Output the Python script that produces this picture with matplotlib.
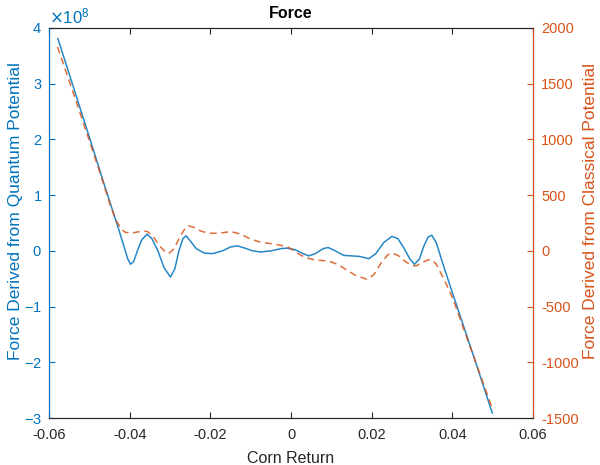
import numpy as np
import matplotlib
matplotlib.use("Agg")
import matplotlib.pyplot as plt

plt.rcParams['font.family'] = ['Liberation Sans', 'DejaVu Sans']
plt.rcParams['axes.unicode_minus'] = False

# quantum potential force (x, y in units of 1e8)
q_x = [-0.0578, -0.0540, -0.0500, -0.0460, -0.0430, -0.0415, -0.0405, -0.0398, -0.0390,
       -0.0380, -0.0370, -0.0357, -0.0345, -0.0330, -0.0315, -0.0299, -0.0288, -0.0278,
       -0.0268, -0.0260, -0.0250, -0.0235, -0.0215, -0.0195, -0.0170, -0.0150, -0.0133,
       -0.0115, -0.0095, -0.0075, -0.0050, -0.0025, -0.0010, 0.0010, 0.0030, 0.0044,
       0.0060, 0.0080, 0.0092, 0.0110, 0.0130, 0.0150, 0.0170, 0.0193, 0.0210, 0.0230,
       0.0250, 0.0265, 0.0280, 0.0295, 0.0306, 0.0318, 0.0330, 0.0340, 0.0349, 0.0360,
       0.0375, 0.0400, 0.0430, 0.0460, 0.0499]
q_y = [3.81, 2.95, 2.04, 1.12, 0.45, 0.10, -0.14, -0.24, -0.19,
       0.02, 0.20, 0.30, 0.22, 0.00, -0.30, -0.47, -0.32, 0.00,
       0.22, 0.27, 0.18, 0.04, -0.04, -0.05, 0.00, 0.07, 0.09,
       0.05, 0.00, -0.02, 0.00, 0.04, 0.05, 0.02, -0.05, -0.09,
       -0.05, 0.04, 0.06, 0.00, -0.08, -0.09, -0.10, -0.14, -0.05, 0.15,
       0.26, 0.22, 0.05, -0.15, -0.24, -0.15, 0.10, 0.25, 0.28, 0.15,
       -0.20, -0.75, -1.40, -2.05, -2.91]
q_y = [v * 1e8 for v in q_y]

# classical potential force
c_x = [-0.0579, -0.0540, -0.0500, -0.0470, -0.0450, -0.0435, -0.0420, -0.0410, -0.0395,
       -0.0380, -0.0365, -0.0355, -0.0340, -0.0325, -0.0310, -0.0303, -0.0290, -0.0275,
       -0.0262, -0.0254, -0.0240, -0.0225, -0.0205, -0.0180, -0.0160, -0.0146, -0.0125,
       -0.0100, -0.0075, -0.0050, -0.0025, -0.0005, 0.0015, 0.0035, 0.0060, 0.0092,
       0.0115, 0.0135, 0.0160, 0.0188, 0.0205, 0.0225, 0.0240, 0.0250, 0.0265, 0.0285,
       0.0300, 0.0310, 0.0325, 0.0340, 0.0349, 0.0360, 0.0380, 0.0402, 0.0430, 0.0460,
       0.0497]
c_y = [1830, 1420, 990, 660, 430, 280, 190, 165, 160,
       170, 178, 172, 120, 40, -15, -24, 20, 130,
       205, 225, 210, 180, 158, 158, 168, 171, 150,
       105, 78, 65, 50, 30, -20, -60, -82, -90,
       -120, -165, -220, -255, -215, -100, -35, -20, -40, -100,
       -130, -135, -105, -80, -80, -120, -260, -435, -720, -1020,
       -1395]

blue = '#0072BD'
orange = '#D95319'
grey = '#262626'

fig = plt.figure(figsize=(6, 4.65), dpi=100)
ax = fig.add_axes([0.0817, 0.101, 0.8067, 0.8388])
ax.plot(q_x, q_y, color=blue, lw=1.1, alpha=0.85)
ax.set_xlim(-0.06, 0.06)
ax.set_ylim(-3e8, 4e8)
ax.set_xticks(np.arange(-0.06, 0.061, 0.02))
ax.set_xticklabels(['-0.06', '-0.04', '-0.02', '0', '0.02', '0.04', '0.06'])
ax.ticklabel_format(axis='y', style='sci', scilimits=(8, 8), useMathText=True)
ax.yaxis.get_offset_text().set_color(blue)
ax.yaxis.get_offset_text().set_fontsize(12)
ax.tick_params(axis='both', direction='in', length=4, labelsize=10.5, top=True)
ax.tick_params(axis='y', colors=blue, pad=5)
ax.tick_params(axis='x', colors=grey, pad=7)
ax.set_ylabel('Force Derived from Quantum Potential', color=blue, fontsize=12.5, labelpad=1)
ax.yaxis.label.set_y(0.53)
ax.set_xlabel('Corn Return', color=grey, fontsize=11.5, labelpad=7)
ax.set_title('Force', fontsize=11.5, fontweight='bold', pad=7)
ax.spines['left'].set_color(blue)
ax.spines['top'].set_color(grey)
ax.spines['bottom'].set_color(grey)

ax2 = ax.twinx()
ax2.plot(c_x, c_y, color=orange, lw=1.1, ls='--', dashes=(4.5, 3), alpha=0.85)
ax2.set_ylim(-1500, 2000)
ax2.set_yticks(np.arange(-1500, 2001, 500))
ax2.tick_params(axis='y', direction='in', length=4, labelsize=10.5, colors=orange, pad=6)
ax2.set_ylabel('Force Derived from Classical Potential', color=orange, fontsize=12.5,
               rotation=90, labelpad=3)
ax2.yaxis.label.set_y(0.53)
ax2.spines['right'].set_color(orange)
ax2.spines['left'].set_color(blue)
ax2.spines['top'].set_color(grey)
ax2.spines['bottom'].set_color(grey)

fig.savefig('out.png', dpi=100)
